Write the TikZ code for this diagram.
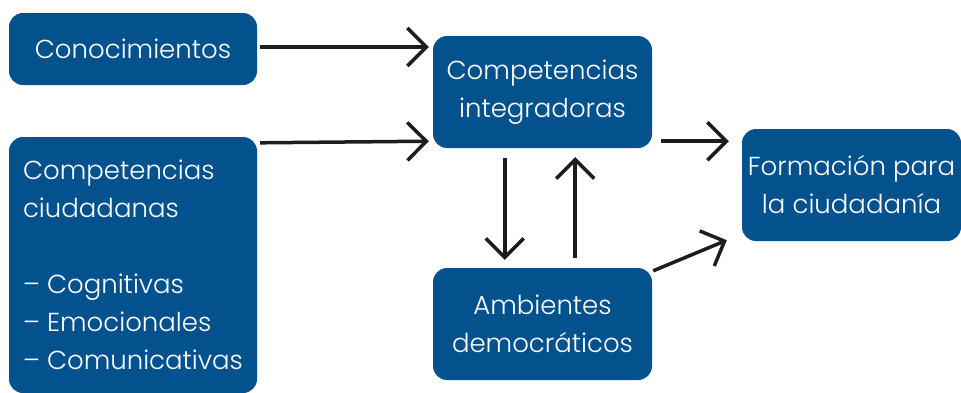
\documentclass[tikz,border=0pt]{standalone}
\usepackage{fontspec}
\setmainfont{Poppins Light}
\usetikzlibrary{arrows.meta}
\usetikzlibrary{positioning}
\definecolor{azul}{RGB}{3,82,142}
\definecolor{tinta}{RGB}{30,28,30}
\tikzset{bloque/.style={fill=azul,rounded corners=14pt,text=white,inner sep=0pt,
    font=\fontsize{26}{38}\selectfont},
  flecha/.style={-{Straight Barb[length=19pt,width=38pt]},line width=3.5pt,color=tinta}}

\begin{document}
\begin{tikzpicture}[x=1pt,y=-1pt]
    \useasboundingbox (0,0) rectangle (961,392);
    % bloques
    \node[bloque,at={(133,49)},minimum width=248pt,minimum height=72pt] (conoc) {Conocimientos};
    \node[bloque,at={(133,265)},minimum width=248pt,minimum height=256pt,align=left] (ciudad)
      {Competencias\\ciudadanas\\[38pt]-- Cognitivas\\-- Emocionales\\-- Comunicativas};
    \node[bloque,at={(542.5,92)},minimum width=219pt,minimum height=112pt,align=center] (integ)
      {Competencias\\integradoras};
    \node[bloque,at={(542.5,324)},minimum width=219pt,minimum height=112pt,align=center] (ambien)
      {Ambientes\\democráticos};
    \node[bloque,at={(851.5,185)},minimum width=219pt,minimum height=112pt,align=center] (formac)
      {Formación para\\la ciudadanía};
    % flechas
    \draw[flecha] ([xshift=3pt,yshift=2pt]conoc.east) -- ([xshift=-4pt,yshift=2pt]conoc.east -| integ.west);
    \draw[flecha] ([xshift=3pt,yshift=-6pt]ciudad.north east) -- ([xshift=-4pt,yshift=7pt]integ.south west);
    \draw[flecha] ([xshift=72pt,yshift=-10pt]integ.south west) -- ([xshift=72pt,yshift=8pt]ambien.north west);
    \draw[flecha] ([xshift=-77pt,yshift=10pt]ambien.north east) -- ([xshift=-77pt,yshift=-9pt]integ.south east);
    \draw[flecha] ([xshift=9pt,yshift=7pt]integ.south east) -- ([xshift=-13pt,yshift=7pt]integ.south east -| formac.west);
    %\draw[flecha] (ambien) -- (formac);
    \draw[flecha] ([xshift=1pt,yshift=-3pt]ambien.north east) -- ([xshift=-15pt,yshift=1pt]formac.south west);
\end{tikzpicture}
\end{document}
